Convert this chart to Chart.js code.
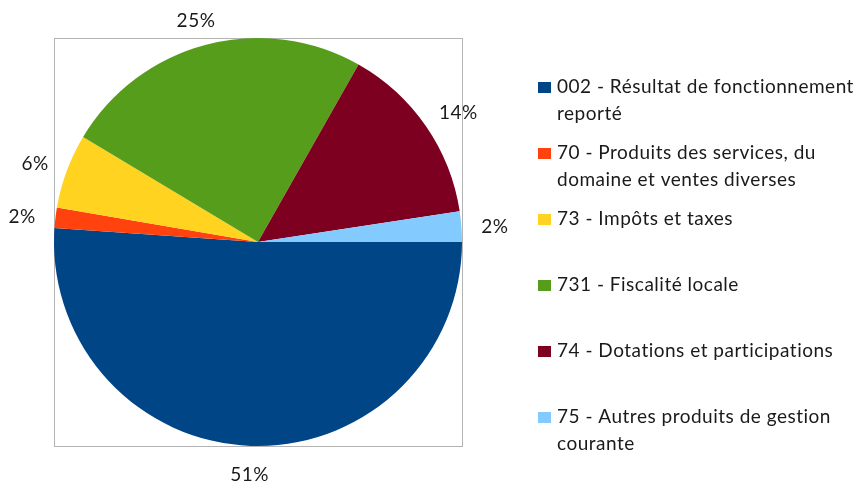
<!DOCTYPE html>
<html>
<head>
<meta charset="utf-8">
<script src="https://cdn.jsdelivr.net/npm/chart.js@4"></script>
<style>
	body { margin: 0; background: #fff; }
	#wrap { width: 855px; height: 482px; }
</style>
</head>
<body>
<div id="wrap"><canvas id="myChart" width="855" height="482"></canvas></div>
<script>
// data (percent of total)
const labels = [
	"002 - Résultat de fonctionnement reporté",
	"70 - Produits des services, du domaine et ventes diverses",
	"73 - Impôts et taxes",
	"731 - Fiscalité locale",
	"74 - Dotations et participations",
	"75 - Autres produits de gestion courante",
];
// how the legend text wraps in the picture
const legendLines = [
	["002 - Résultat de fonctionnement", "reporté"],
	["70 - Produits des services, du", "domaine et ventes diverses"],
	["73 - Impôts et taxes"],
	["731 - Fiscalité locale"],
	["74 - Dotations et participations"],
	["75 - Autres produits de gestion", "courante"],
];
const values = [51.1, 1.6, 5.9, 24.6, 14.4, 2.4];
const colors = ["#004586", "#ff420e", "#ffd320", "#579d1c", "#7e0021", "#83caff"];

const FONT = "19px Lato";
const TEXT_COLOR = "#1a1a1a";

// gray frame around the plot area
const framePlugin = {
	id: "frame",
	beforeDraw(chart) {
		const a = chart.chartArea;
		const ctx = chart.ctx;
		ctx.save();
		ctx.strokeStyle = "#b3b3b3";
		ctx.lineWidth = 1;
		ctx.strokeRect(a.left + 0.5, a.top + 0.5, a.right - a.left, a.bottom - a.top);
		ctx.restore();
	},
};

// percent labels outside each slice
const percentPlugin = {
	id: "percents",
	afterDatasetsDraw(chart) {
		const ctx = chart.ctx;
		const meta = chart.getDatasetMeta(0);
		const total = values.reduce((s, v) => s + v, 0);
		ctx.save();
		ctx.font = FONT;
		ctx.letterSpacing = "0.5px";
		ctx.fillStyle = TEXT_COLOR;
		ctx.textAlign = "center";
		ctx.textBaseline = "middle";
		meta.data.forEach((arc, i) => {
			const p = arc.getProps(["x", "y", "startAngle", "endAngle", "outerRadius"], true);
			const mid = (p.startAngle + p.endAngle) / 2;
			const r = p.outerRadius + 20;
			const txt = Math.round((values[i] / total) * 100) + "%";
			const w = ctx.measureText(txt).width;
			const h = 14;
			const ax = p.x + Math.cos(mid) * r;
			const ay = p.y + Math.sin(mid) * r;
			ctx.fillText(txt, ax + Math.cos(mid) * w / 2, ay + Math.sin(mid) * h / 2 + 2);
		});
		ctx.restore();
	},
};

// legend on the right, evenly spaced slots
const legendPlugin = {
	id: "sideLegend",
	afterDraw(chart) {
		const ctx = chart.ctx;
		ctx.save();
		ctx.font = FONT;
		ctx.letterSpacing = "0.5px";
		ctx.textBaseline = "middle";
		const x0 = 538;
		const y0 = 87;
		const step = 66;
		legendLines.forEach((lines, i) => {
			const y = y0 + i * step;
			ctx.fillStyle = colors[i];
			ctx.fillRect(x0, y - 5, 13, 11);
			ctx.fillStyle = TEXT_COLOR;
			lines.forEach((line, j) => {
				ctx.fillText(line, x0 + 19, y + j * 27);
			});
		});
		ctx.restore();
	},
};

const ctx = document.querySelector("#myChart").getContext("2d");
const chart = new Chart(ctx, {
	type: "pie",
	data: {
		labels: labels,
		datasets: [
			{
				data: values,
				backgroundColor: colors,
				borderWidth: 0,
			},
		],
	},
	options: {
		responsive: false,
		animation: false,
		rotation: 90,
		layout: { padding: { left: 54, right: 393, top: 38, bottom: 36 } },
		plugins: {
			legend: { display: false },
			tooltip: { enabled: false },
		},
	},
	plugins: [framePlugin, percentPlugin, legendPlugin],
});
</script>
</body>
</html>
